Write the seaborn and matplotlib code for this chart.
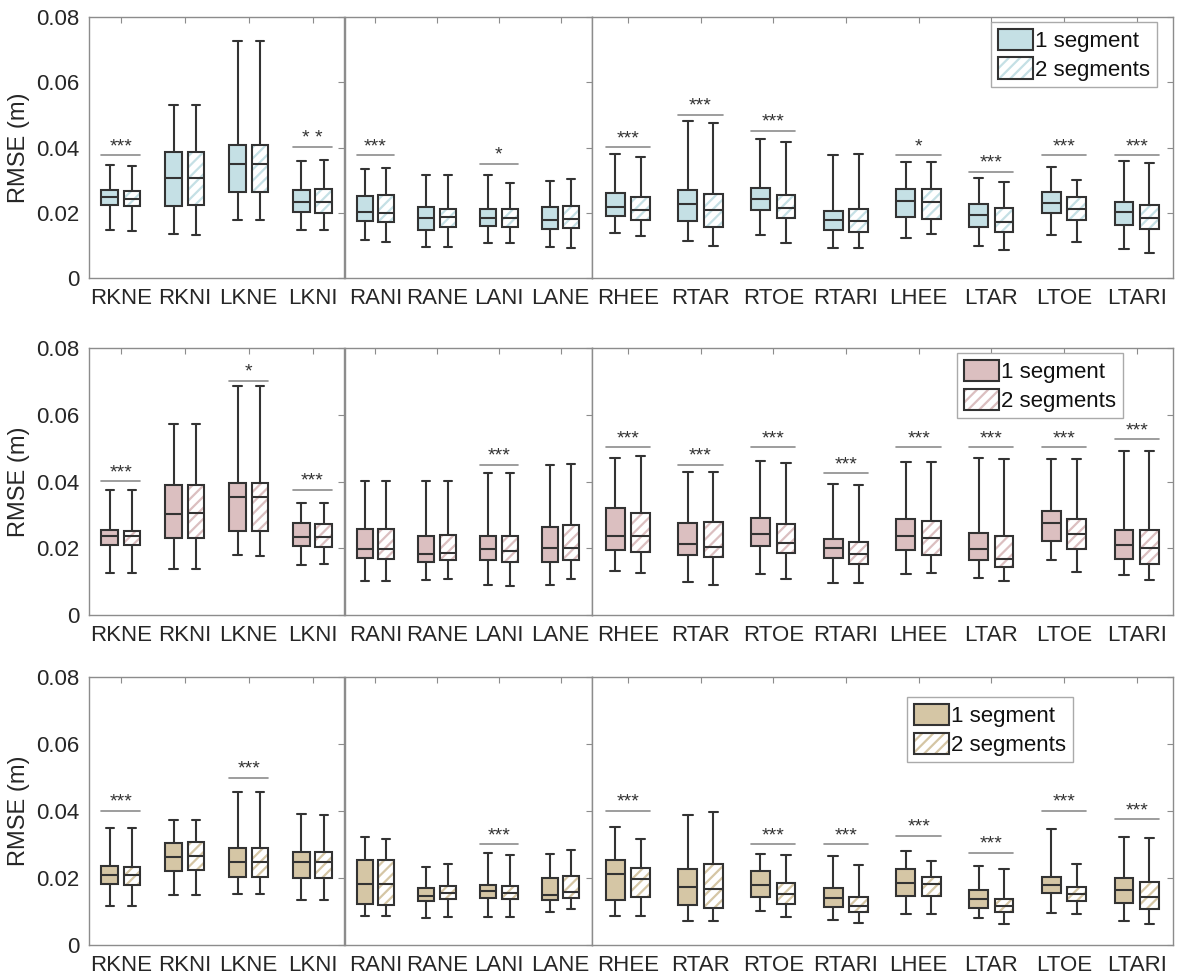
import numpy as np
import pandas as pd
import matplotlib
matplotlib.use("Agg")
from matplotlib import pyplot as plt
from matplotlib.patches import Patch, PathPatch
from matplotlib.legend_handler import HandlerTuple
import seaborn as sns

markers = ["RKNE", "RKNI", "LKNE", "LKNI", "RANI", "RANE", "LANI", "LANE",
           "RHEE", "RTAR", "RTOE", "RTARI", "LHEE", "LTAR", "LTOE", "LTARI"]
segments = ["1 segment", "2 segments"]

# five-number summaries: (low whisker, q1, median, q3, high whisker)
blue_seg1 = [(0.0146, 0.0223, 0.0247, 0.0271, 0.0345), (0.0134, 0.0220, 0.0306, 0.0385, 0.0530),
             (0.0179, 0.0264, 0.0350, 0.0408, 0.0725), (0.0146, 0.0201, 0.0233, 0.0269, 0.0360),
             (0.0115, 0.0174, 0.0202, 0.0251, 0.0335), (0.0095, 0.0148, 0.0184, 0.0217, 0.0315),
             (0.0107, 0.0158, 0.0185, 0.0213, 0.0316), (0.0096, 0.0150, 0.0179, 0.0217, 0.0298),
             (0.0137, 0.0189, 0.0218, 0.0260, 0.0380), (0.0112, 0.0175, 0.0226, 0.0269, 0.0480),
             (0.0133, 0.0209, 0.0241, 0.0275, 0.0425), (0.0091, 0.0148, 0.0178, 0.0205, 0.0377),
             (0.0124, 0.0187, 0.0235, 0.0274, 0.0356), (0.0098, 0.0155, 0.0193, 0.0226, 0.0305),
             (0.0132, 0.0198, 0.0230, 0.0263, 0.0339), (0.0089, 0.0162, 0.0202, 0.0234, 0.0359)]
blue_seg2 = [(0.0144, 0.0221, 0.0243, 0.0267, 0.0342), (0.0132, 0.0223, 0.0306, 0.0386, 0.0530),
             (0.0179, 0.0264, 0.0350, 0.0407, 0.0725), (0.0146, 0.0198, 0.0234, 0.0273, 0.0362),
             (0.0110, 0.0173, 0.0199, 0.0254, 0.0336), (0.0095, 0.0155, 0.0188, 0.0212, 0.0315),
             (0.0108, 0.0156, 0.0183, 0.0211, 0.0291), (0.0091, 0.0153, 0.0181, 0.0220, 0.0304),
             (0.0130, 0.0179, 0.0208, 0.0248, 0.0371), (0.0099, 0.0156, 0.0209, 0.0257, 0.0474),
             (0.0108, 0.0184, 0.0215, 0.0255, 0.0417), (0.0093, 0.0141, 0.0176, 0.0210, 0.0381),
             (0.0134, 0.0181, 0.0232, 0.0272, 0.0355), (0.0087, 0.0142, 0.0172, 0.0215, 0.0295),
             (0.0109, 0.0178, 0.0213, 0.0248, 0.0300), (0.0076, 0.0150, 0.0185, 0.0225, 0.0353)]
blue_sig = [(0, 0.0376, "***"), (3, 0.0401, "* *"), (4, 0.0376, "***"), (6, 0.0350, "*"),
            (8, 0.0401, "***"), (9, 0.0500, "***"), (10, 0.0451, "***"), (12, 0.0376, "*"),
            (13, 0.0325, "***"), (14, 0.0376, "***"), (15, 0.0376, "***")]

pink_seg1 = [(0.0127, 0.0211, 0.0236, 0.0254, 0.0376), (0.0139, 0.0230, 0.0303, 0.0390, 0.0571),
             (0.0179, 0.0253, 0.0353, 0.0396, 0.0686), (0.0151, 0.0207, 0.0235, 0.0276, 0.0335),
             (0.0102, 0.0171, 0.0198, 0.0258, 0.0401), (0.0106, 0.0160, 0.0183, 0.0237, 0.0401),
             (0.0090, 0.0164, 0.0198, 0.0238, 0.0425), (0.0089, 0.0159, 0.0201, 0.0264, 0.0449),
             (0.0133, 0.0195, 0.0237, 0.0321, 0.0470), (0.0099, 0.0181, 0.0213, 0.0275, 0.0429),
             (0.0124, 0.0206, 0.0243, 0.0290, 0.0462), (0.0097, 0.0170, 0.0200, 0.0227, 0.0392),
             (0.0123, 0.0194, 0.0236, 0.0287, 0.0457), (0.0112, 0.0166, 0.0199, 0.0247, 0.0469),
             (0.0165, 0.0223, 0.0276, 0.0311, 0.0468), (0.0119, 0.0169, 0.0210, 0.0255, 0.0491)]
pink_seg2 = [(0.0127, 0.0210, 0.0236, 0.0252, 0.0376), (0.0139, 0.0231, 0.0305, 0.0391, 0.0571),
             (0.0176, 0.0252, 0.0353, 0.0395, 0.0686), (0.0153, 0.0205, 0.0234, 0.0274, 0.0335),
             (0.0102, 0.0169, 0.0197, 0.0257, 0.0401), (0.0108, 0.0166, 0.0187, 0.0240, 0.0402),
             (0.0088, 0.0160, 0.0193, 0.0236, 0.0426), (0.0107, 0.0166, 0.0202, 0.0270, 0.0451),
             (0.0126, 0.0188, 0.0237, 0.0305, 0.0476), (0.0090, 0.0173, 0.0204, 0.0278, 0.0427),
             (0.0107, 0.0187, 0.0217, 0.0272, 0.0454), (0.0095, 0.0153, 0.0184, 0.0220, 0.0391),
             (0.0126, 0.0181, 0.0232, 0.0283, 0.0458), (0.0101, 0.0143, 0.0169, 0.0237, 0.0466),
             (0.0129, 0.0199, 0.0243, 0.0289, 0.0468), (0.0106, 0.0154, 0.0202, 0.0255, 0.0491)]
pink_sig = [(0, 0.0401, "***"), (2, 0.0701, "*"), (3, 0.0376, "***"), (6, 0.0450, "***"),
            (8, 0.0502, "***"), (9, 0.0450, "***"), (10, 0.0502, "***"), (11, 0.0425, "***"),
            (12, 0.0502, "***"), (13, 0.0502, "***"), (14, 0.0502, "***"), (15, 0.0526, "***")]

tan_seg1 = [(0.0117, 0.0181, 0.0210, 0.0237, 0.0348), (0.0149, 0.0222, 0.0264, 0.0305, 0.0372),
            (0.0153, 0.0202, 0.0247, 0.0291, 0.0456), (0.0135, 0.0201, 0.0247, 0.0279, 0.0392),
            (0.0087, 0.0123, 0.0181, 0.0255, 0.0323), (0.0082, 0.0132, 0.0145, 0.0169, 0.0234),
            (0.0084, 0.0140, 0.0160, 0.0179, 0.0276), (0.0099, 0.0133, 0.0150, 0.0200, 0.0272),
            (0.0088, 0.0135, 0.0211, 0.0253, 0.0351), (0.0072, 0.0119, 0.0172, 0.0227, 0.0389),
            (0.0101, 0.0144, 0.0178, 0.0220, 0.0273), (0.0076, 0.0114, 0.0141, 0.0169, 0.0266),
            (0.0094, 0.0145, 0.0185, 0.0228, 0.0280), (0.0081, 0.0111, 0.0138, 0.0163, 0.0237),
            (0.0095, 0.0155, 0.0179, 0.0202, 0.0347), (0.0073, 0.0125, 0.0163, 0.0201, 0.0323)]
tan_seg2 = [(0.0117, 0.0179, 0.0208, 0.0232, 0.0349), (0.0150, 0.0224, 0.0266, 0.0307, 0.0372),
            (0.0152, 0.0202, 0.0247, 0.0291, 0.0456), (0.0135, 0.0199, 0.0247, 0.0277, 0.0389),
            (0.0087, 0.0120, 0.0182, 0.0253, 0.0316), (0.0084, 0.0137, 0.0156, 0.0175, 0.0241),
            (0.0083, 0.0137, 0.0156, 0.0175, 0.0270), (0.0107, 0.0140, 0.0158, 0.0206, 0.0285),
            (0.0088, 0.0142, 0.0197, 0.0230, 0.0317), (0.0071, 0.0110, 0.0167, 0.0243, 0.0396),
            (0.0083, 0.0122, 0.0153, 0.0185, 0.0268), (0.0065, 0.0098, 0.0117, 0.0142, 0.0239),
            (0.0092, 0.0147, 0.0181, 0.0202, 0.0252), (0.0062, 0.0098, 0.0115, 0.0136, 0.0227),
            (0.0094, 0.0132, 0.0152, 0.0172, 0.0241), (0.0062, 0.0107, 0.0142, 0.0189, 0.0319)]
tan_sig = [(0, 0.0400, "***"), (2, 0.0500, "***"), (6, 0.0301, "***"), (8, 0.0400, "***"),
           (10, 0.0301, "***"), (11, 0.0301, "***"), (12, 0.0325, "***"), (13, 0.0275, "***"),
           (14, 0.0400, "***"), (15, 0.0375, "***")]

yticks = [0, 0.02, 0.04, 0.06, 0.08]
ytick_labels = ["0", "0.02", "0.04", "0.06", "0.08"]

panels = [
    (blue_seg1, blue_seg2, blue_sig, "#c5e0e5", (0.9725, 0.981)),
    (pink_seg1, pink_seg2, pink_sig, "#dbbfc0", (0.914, 0.981)),
    (tan_seg1, tan_seg2, tan_sig, "#d5c6a5", (0.828, 0.925)),
]

sns.set_theme(style="white")
plt.rcParams["font.family"] = ["Liberation Sans", "DejaVu Sans"]
plt.rcParams["hatch.linewidth"] = 1.6

W, H = 1177, 980
fig = plt.figure(figsize=(W / 100, H / 100), dpi=100)

row_px = [(17, 278), (348, 615), (677, 945)]
col_px = [89, 344.5, 591.5, 1173]
sections = [(0, 4), (4, 8), (8, 16)]
edge = "#333333"
spine_col = "#8c8c8c"
half = 0.175 + 0.1295

for r, (seg1, seg2, sigs, fill, leg_pos) in enumerate(panels):
    rows = []
    for seg, stats in zip(segments, [seg1, seg2]):
        for m, s in zip(markers, stats):
            for v in s:
                rows.append({"marker": m, "segment": seg, "rmse": v})
    df = pd.DataFrame(rows)

    top, bot = row_px[r]
    for c, (a, b) in enumerate(sections):
        ax = fig.add_axes([col_px[c] / W, 1 - bot / H,
                           (col_px[c + 1] - col_px[c]) / W, (bot - top) / H])
        order = markers[a:b]
        sns.boxplot(data=df[df["marker"].isin(order)], x="marker", y="rmse",
                    hue="segment", order=order, hue_order=segments,
                    palette={segments[0]: fill, segments[1]: "white"},
                    saturation=1, width=0.7, gap=0.26, whis=(0, 100),
                    linewidth=1.5, linecolor=edge, legend=False, ax=ax)

        # hatching for the 2-segment boxes
        for p in list(ax.patches):
            if np.allclose(p.get_facecolor()[:3], 1):
                hp = PathPatch(p.get_path(), transform=p.get_transform(),
                               facecolor="white", edgecolor=fill, hatch="///",
                               lw=0, zorder=p.get_zorder() - 0.01)
                ax.add_patch(hp)
                p.set_facecolor("none")

        for i, y, stars in sigs:
            if a <= i < b:
                xi = i - a
                ax.plot([xi - half, xi + half], [y, y], color="#8c8c8c", lw=1.2)
                ax.annotate(stars, (xi, y), xytext=(0, 3), textcoords="offset points",
                            ha="center", va="baseline", fontsize=14, color="#333333")

        ax.set_ylim(0, 0.08)
        ax.set_xlim(-0.5, len(order) - 0.5)
        ax.set_yticks(yticks)
        ax.set_xlabel("")
        ax.set_ylabel("")
        for sp in ax.spines.values():
            sp.set_visible(True)
            sp.set_color(spine_col)
            sp.set_linewidth(1.0)
        ax.tick_params(axis="both", direction="in", length=4, width=0.8,
                       color=spine_col, top=True, right=True, labelsize=16,
                       labelcolor="#262626")
        ax.tick_params(axis="x", pad=7)
        ax.tick_params(axis="y", pad=7)
        if c == 0:
            ax.set_yticklabels(ytick_labels)
            ax.set_ylabel("RMSE (m)", fontsize=17, color="#262626", labelpad=4)
        else:
            ax.tick_params(axis="y", labelleft=False)

        if c == 2:
            h1 = Patch(facecolor=fill, edgecolor=edge, lw=1.5)
            h2 = (Patch(facecolor="white", edgecolor=fill, hatch="///", lw=0),
                  Patch(facecolor="none", edgecolor=edge, lw=1.5))
            leg = ax.legend([h1, h2], segments, loc="upper right",
                            bbox_to_anchor=leg_pos, borderaxespad=0,
                            handler_map={tuple: HandlerTuple(ndivide=1)},
                            fontsize=16, handlelength=1.6, handleheight=1.1,
                            handletextpad=0.1, borderpad=0.3, labelspacing=0.25,
                            fancybox=False, framealpha=1, edgecolor="#aaaaaa")
            for t in leg.get_texts():
                t.set_color("#111111")

fig.savefig("out.png", dpi=100)
